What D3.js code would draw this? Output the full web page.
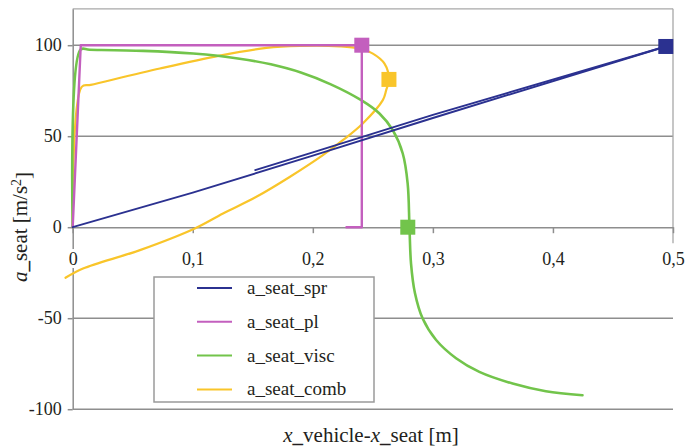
<!DOCTYPE html>
<html>
<head>
<meta charset="utf-8">
<script src="https://cdn.jsdelivr.net/npm/d3@7"></script>
<style>
  html, body { margin: 0; padding: 0; background: #fff; }
  svg { display: block; }
</style>
</head>
<body>
<svg id="chart" width="687" height="446"></svg>
<script>
// Axis ticks
const xTicks = [0, 0.1, 0.2, 0.3, 0.4, 0.5];
const yTicks = [-100, -50, 0, 50, 100];

// Series names (legend order)
const seriesNames = ["a_seat_spr", "a_seat_pl", "a_seat_visc", "a_seat_comb"];

// a_seat_spr: loading and unloading branch  [x_vehicle - x_seat (m), a_seat (m/s²)]
const sprLoading   = [[0, 0], [0.1, 19], [0.2, 39.3], [0.3, 60], [0.494, 99.3]];
const sprUnloading = [[0.494, 99.3], [0.3, 61.7], [0.2, 41.1], [0.152, 31.4]];

// a_seat_pl
const plPoints = [[0, 0], [0.0067, 100], [0.2408, 100], [0.2408, 0], [0.2280, 0]];

// a_seat_visc
const viscPoints = [
  [0, 0], [0.0066, 97.6], [0.014, 97.5], [0.0587, 96.9], [0.1003, 95.4], [0.139, 92.6],
  [0.165, 89.5], [0.19, 85], [0.215, 78.5], [0.2403, 69.8], [0.2555, 62.5],
  [0.2666, 53.3], [0.2749, 40.5], [0.279, 24], [0.2805, 0], [0.2818, -20],
  [0.285, -36], [0.2915, -50.2], [0.3027, -62], [0.3193, -72], [0.3387, -79.5],
  [0.3664, -85.9], [0.3941, -90.1], [0.4246, -92.3]
];

// a_seat_comb
const combPoints = [
  [0, 0], [0.0075, 77.1], [0.015, 78.2], [0.0726, 87.2], [0.1225, 94.3], [0.1613, 98.5],
  [0.189, 99.6], [0.2223, 99.4], [0.2389, 98.2], [0.25, 95.4], [0.2597, 89.9],
  [0.2634, 81.2], [0.2611, 75.3], [0.2583, 69.8], [0.2416, 57], [0.225, 47.8],
  [0.2084, 39.6], [0.1807, 27.6], [0.153, 16.7], [0.1252, 7.5], [0.1017, -0.7],
  [0.056, -12.6], [0.0086, -22.7], [-0.006, -27.8]
];

// Square markers, one per series
const markerPoints = [[0.494, 99.3], [0.2408, 100], [0.2791, 0], [0.2634, 81.2]];

const colors = ["#2b3190", "#c35fbe", "#72c44b", "#f9c52a"];
const gridColor = "#8e8e8e";
const serif = "'Liberation Serif', 'Times New Roman', serif";
const textColor = "#231f20";

const svg = d3.select("#chart").attr("font-family", serif);

const x = d3.scaleLinear().domain([0, 0.5]).range([72.7, 673]);
const y = d3.scaleLinear().domain([-100, 120]).range([409.2, 8.8]);

const locale = d3.formatLocale({ decimal: ",", thousands: ".", grouping: [3], currency: ["", ""], minus: "-" });
const fmtX = locale.format("~g");
const fmtY = locale.format("d");

// horizontal gridlines
svg.append("g")
  .selectAll("line")
  .data(yTicks.filter(d => d !== 0))
  .join("line")
  .attr("x1", x(0)).attr("x2", x(0.5))
  .attr("y1", d => y(d)).attr("y2", d => y(d))
  .attr("stroke", gridColor).attr("stroke-width", 1.5);

// plot frame: top edge and right edge
svg.append("line")
  .attr("x1", x(0)).attr("x2", x(0.5))
  .attr("y1", y(120)).attr("y2", y(120))
  .attr("stroke", "#a8a8a8").attr("stroke-width", 1.3);
svg.append("line")
  .attr("x1", x(0.5)).attr("x2", x(0.5))
  .attr("y1", y(120)).attr("y2", y(0) + 16)
  .attr("stroke", "#a8a8a8").attr("stroke-width", 1.3);

// y axis
const yAxis = svg.append("g")
  .attr("transform", `translate(${x(0)},0)`)
  .call(d3.axisLeft(y).tickValues(yTicks).tickFormat(fmtY).tickSize(5).tickSizeOuter(0).tickPadding(6))
  .attr("font-family", serif).attr("font-size", 18);
yAxis.select(".domain").attr("stroke", gridColor).attr("stroke-width", 1.5);
yAxis.selectAll(".tick line").attr("stroke", gridColor).attr("stroke-width", 1.5);
yAxis.selectAll(".tick text").attr("fill", textColor);

// x axis crossing at a = 0
const xAxis = svg.append("g")
  .attr("transform", `translate(0,${y(0)})`)
  .call(d3.axisBottom(x).tickValues(xTicks).tickFormat(fmtX).tickSize(6).tickSizeOuter(0).tickPadding(19))
  .attr("font-family", serif).attr("font-size", 18);
xAxis.select(".domain").attr("stroke", gridColor).attr("stroke-width", 1.5);
xAxis.selectAll(".tick line").attr("stroke", gridColor).attr("stroke-width", 1.5);
xAxis.selectAll(".tick text")
  .attr("fill", textColor)
  .attr("stroke", "#fff").attr("stroke-width", 6).attr("paint-order", "stroke");

// series paths
const straight = d3.line().x(d => x(d[0])).y(d => y(d[1]));
const smooth = d3.line().x(d => x(d[0])).y(d => y(d[1])).curve(d3.curveCatmullRom.alpha(0.5));

const plot = svg.append("g").attr("fill", "none").attr("stroke-linejoin", "round").attr("stroke-linecap", "round");

plot.append("path").attr("d", smooth(combPoints))
  .attr("stroke", colors[3]).attr("stroke-width", 2.2);
plot.append("path").attr("d", smooth(viscPoints))
  .attr("stroke", colors[2]).attr("stroke-width", 2.6);
plot.append("path").attr("d", straight(plPoints))
  .attr("stroke", colors[1]).attr("stroke-width", 2.4);
plot.append("path").attr("d", straight(sprLoading))
  .attr("stroke", colors[0]).attr("stroke-width", 1.9);
plot.append("path").attr("d", straight(sprUnloading))
  .attr("stroke", colors[0]).attr("stroke-width", 1.9);

// square markers
const ms = 15;
svg.append("g")
  .selectAll("rect")
  .data(markerPoints)
  .join("rect")
  .attr("x", d => x(d[0]) - ms / 2)
  .attr("y", d => y(d[1]) - ms / 2)
  .attr("width", ms).attr("height", ms)
  .attr("fill", (d, i) => colors[i]);

// legend
const legend = svg.append("g").attr("transform", "translate(154,277)");
legend.append("rect")
  .attr("width", 220).attr("height", 125)
  .attr("fill", "#fff").attr("stroke", "#9a9a9a").attr("stroke-width", 1.5);
const entries = legend.selectAll("g.entry")
  .data(seriesNames)
  .join("g")
  .attr("class", "entry")
  .attr("transform", (d, i) => `translate(0,${11 + i * 33.8})`);
entries.append("line")
  .attr("x1", 43).attr("x2", 78)
  .attr("stroke", (d, i) => colors[i]).attr("stroke-width", 2);
entries.append("text")
  .attr("x", 93).attr("dy", "0.32em")
  .attr("font-size", 19).attr("fill", textColor)
  .text(d => d);

// axis titles
const xTitle = svg.append("text")
  .attr("x", 371).attr("y", 442)
  .attr("text-anchor", "middle")
  .attr("font-size", 21).attr("fill", textColor);
xTitle.append("tspan").attr("font-style", "italic").text("x");
xTitle.append("tspan").attr("font-weight", "bold").text("_");
xTitle.append("tspan").text("vehicle-");
xTitle.append("tspan").attr("font-style", "italic").text("x");
xTitle.append("tspan").attr("font-weight", "bold").text("_");
xTitle.append("tspan").text("seat [m]");

const yTitle = svg.append("text")
  .attr("transform", "translate(27,227) rotate(-90)")
  .attr("text-anchor", "middle")
  .attr("font-size", 21).attr("fill", textColor);
yTitle.append("tspan").attr("font-style", "italic").text("a");
yTitle.append("tspan").attr("font-weight", "bold").text("_");
yTitle.append("tspan").text("seat [m/s");
yTitle.append("tspan").attr("dy", "-0.4em").attr("font-size", 14).text("2");
yTitle.append("tspan").attr("dy", "0.4em").text("]");
</script>
</body>
</html>
